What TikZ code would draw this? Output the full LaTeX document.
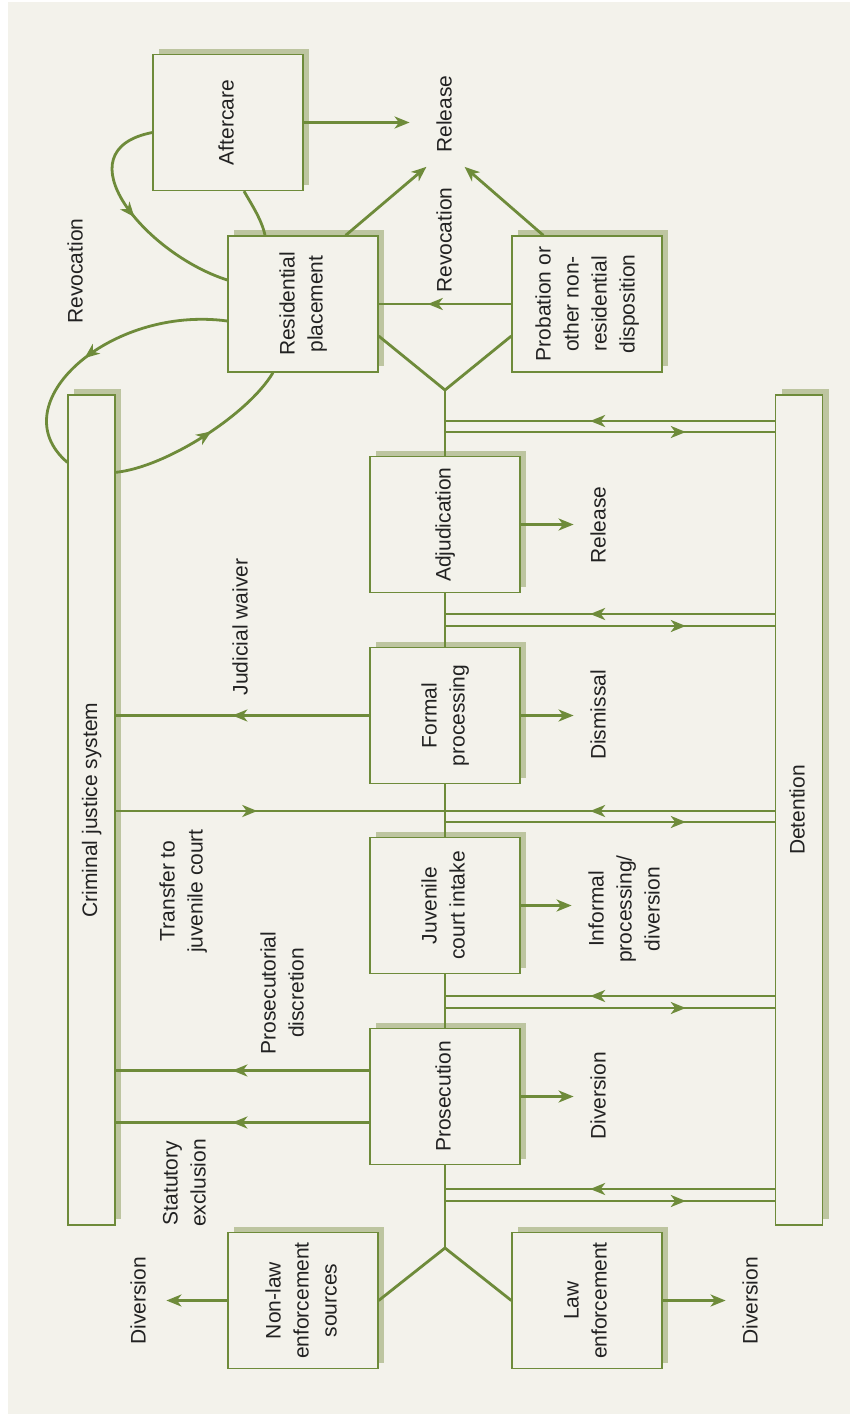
\documentclass[tikz,border=0pt]{standalone}
\usepackage{fontspec}
\setmainfont{Liberation Sans}
\usepackage{graphicx}
\usepackage{tikz}
\usetikzlibrary{arrows.meta,calc,shadows,decorations.markings}
\usepackage{xcolor}
\definecolor{paper}{HTML}{F3F2EB}
\definecolor{olive}{HTML}{6E8B3A}
\definecolor{shade}{HTML}{BDC5A0}
\definecolor{ink}{HTML}{222222}
\newcommand{\flowfont}{\fontsize{10.5pt}{14pt}\selectfont}
\newcommand{\vlab}[1]{\rotatebox{90}{\begin{tabular}{@{}c@{}}#1\end{tabular}}}
\tikzset{
  >=Stealth,
  every node/.style={font=\flowfont,text=ink},
  box/.style={draw=olive,line width=0.65pt,fill=paper,minimum width=75pt,minimum height=68pt,inner sep=0pt,
    general shadow={fill=shade,shadow xshift=3pt,shadow yshift=3pt}},
  bar/.style={box,minimum width=23.5pt,minimum height=415pt},
  lbl/.style={inner sep=3pt},
  flow/.style={draw=olive,line width=1.4pt},
  tip/.style={flow,shorten >=3pt,-{Stealth[length=7.5pt,width=6pt,inset=2.2pt]}},
  midtip/.style={flow,postaction={decorate},
    decoration={markings,mark=at position #1 with {\arrow{Stealth[length=7.5pt,width=6pt,inset=2.2pt]}}}},
}

\begin{document}
\begin{tikzpicture}[x=0.5pt,y=-0.5pt]
  \useasboundingbox (0,0) rectangle (850,1414);
  \fill[paper] (8,2) rectangle (850,1414);

  \node[box] (aft) at (228,122.5) {\vlab{Aftercare}};
  \node[box] (res) at (303,304) {\vlab{Residential\\placement}};
  \node[box] (prob) at (587,304) {\vlab{Probation or\\other non-\\residential\\disposition}};
  \node[box] (adj) at (445,524.5) {\vlab{Adjudication}};
  \node[box] (form) at (445,715.5) {\vlab{Formal\\processing}};
  \node[box] (juv) at (445,905.5) {\vlab{Juvenile\\court intake}};
  \node[box] (pros) at (445,1096.5) {\vlab{Prosecution}};
  \node[box] (nle) at (303,1300.5) {\vlab{Non-law\\enforcement\\sources}};
  \node[box] (law) at (587,1300.5) {\vlab{Law\\enforcement}};
  \node[bar] (cjs) at (91.5,810) {\vlab{Criminal justice system}};
  \node[bar] (det) at (799,810) {\vlab{Detention}};

  \node[lbl] (rel) at (446,114) {\vlab{Release}};
  \node[lbl] (rev1) at (77,271) {\vlab{Revocation}};
  \node[lbl] (rev2) at (446,240) {\vlab{Revocation}};
  \node[lbl] (waiver) at (242,627) {\vlab{Judicial waiver}};
  \node[lbl] (transfer) at (183,891) {\vlab{Transfer to\\juvenile court}};
  \node[lbl] (discr) at (284,993) {\vlab{Prosecutorial\\discretion}};
  \node[lbl] (excl) at (186,1183) {\vlab{Statutory\\exclusion}};
  \node[lbl] (rel2) at (600,525) {\vlab{Release}};
  \node[lbl] (dism) at (600,715) {\vlab{Dismissal}};
  \node[lbl] (inf) at (626,909) {\vlab{Informal\\processing/\\diversion}};
  \node[lbl] (div1) at (600,1096) {\vlab{Diversion}};
  \node[lbl] (div2) at (140,1301) {\vlab{Diversion}};
  \node[lbl] (div3) at (752,1301) {\vlab{Diversion}};

  \coordinate (topv) at (445,390);
  \coordinate (botv) at (445,1248);
  \coordinate (in1) at (445,421);  \coordinate (out1) at (445,432);
  \coordinate (in2) at (445,614);  \coordinate (out2) at (445,626);
  \coordinate (in3) at (445,811);  \coordinate (out3) at (445,822);
  \coordinate (in4) at (445,996);  \coordinate (out4) at (445,1008);
  \coordinate (in5) at (445,1189); \coordinate (out5) at (445,1201);
  \coordinate (ps1) at ([yshift=13pt]pros.west);
  \coordinate (ps2) at ([yshift=-13pt]pros.west);

  \draw[flow] (topv) -- (adj.north) (adj.south) -- (form.north) (form.south) -- (juv.north)
    (juv.south) -- (pros.north) (pros.south) -- (botv);
  \draw[flow] ([yshift=-16pt]res.east) -- (topv) -- ([yshift=-16pt]prob.west);
  \draw[flow] (nle.east) -- (botv) -- (law.west);

  \draw[midtip=0.56] (det.west |- in1) -- (in1); \draw[midtip=0.73] (out1) -- (out1 -| det.west);
  \draw[midtip=0.56] (det.west |- in2) -- (in2); \draw[midtip=0.73] (out2) -- (out2 -| det.west);
  \draw[midtip=0.56] (det.west |- in3) -- (in3); \draw[midtip=0.73] (out3) -- (out3 -| det.west);
  \draw[midtip=0.56] (det.west |- in4) -- (in4); \draw[midtip=0.73] (out4) -- (out4 -| det.west);
  \draw[midtip=0.56] (det.west |- in5) -- (in5); \draw[midtip=0.73] (out5) -- (out5 -| det.west);

  \draw[midtip=0.43] (cjs.east |- in3) -- (in3);
  \draw[midtip=0.54] (form.west) -- (form.west -| cjs.east);
  \draw[midtip=0.54] (ps1) -- (ps1 -| cjs.east); \draw[midtip=0.54] (ps2) -- (ps2 -| cjs.east);

  \draw[tip] (adj.east) -- (adj.east -| rel2.west); \draw[tip] (form.east) -- (form.east -| dism.west);
  \draw[tip] (juv.east) -- (juv.east -| inf.west); \draw[tip] (pros.east) -- (pros.east -| div1.west);
  \draw[tip] (nle.west) -- (nle.west -| div2.east); \draw[tip] (law.east) -- (law.east -| div3.west);

  \draw[tip,shorten >=8pt] (aft.east) -- (aft.east -| rel.west);
  \draw[tip] ([xshift=-16.5pt]res.north east) -- ([shift={(-15,4)}]rel.south);
  \draw[tip] ([xshift=16pt]prob.north west) -- ([shift={(14,4)}]rel.south);
  \draw[midtip=0.63] (prob.west) -- (res.east);

  \draw[midtip=0.5] ([yshift=-5pt]aft.west) .. controls +(-93,18) and +(-82,-26) .. ([yshift=12pt]res.west);
  \draw[flow] ([xshift=-19pt]res.north) .. controls +(-3,-15) and +(8,14) .. ([xshift=8pt]aft.south);
  \draw[midtip=0.55] ([yshift=-8.5pt]res.west) .. controls +(-118,-16) and +(-68,-58) .. ([yshift=-34pt]cjs.north west);
  \draw[midtip=0.55] ([yshift=-39pt]cjs.north east) .. controls +(50,-5) and +(-25,42) .. ([xshift=-15pt]res.south);
\end{tikzpicture}
\end{document}
